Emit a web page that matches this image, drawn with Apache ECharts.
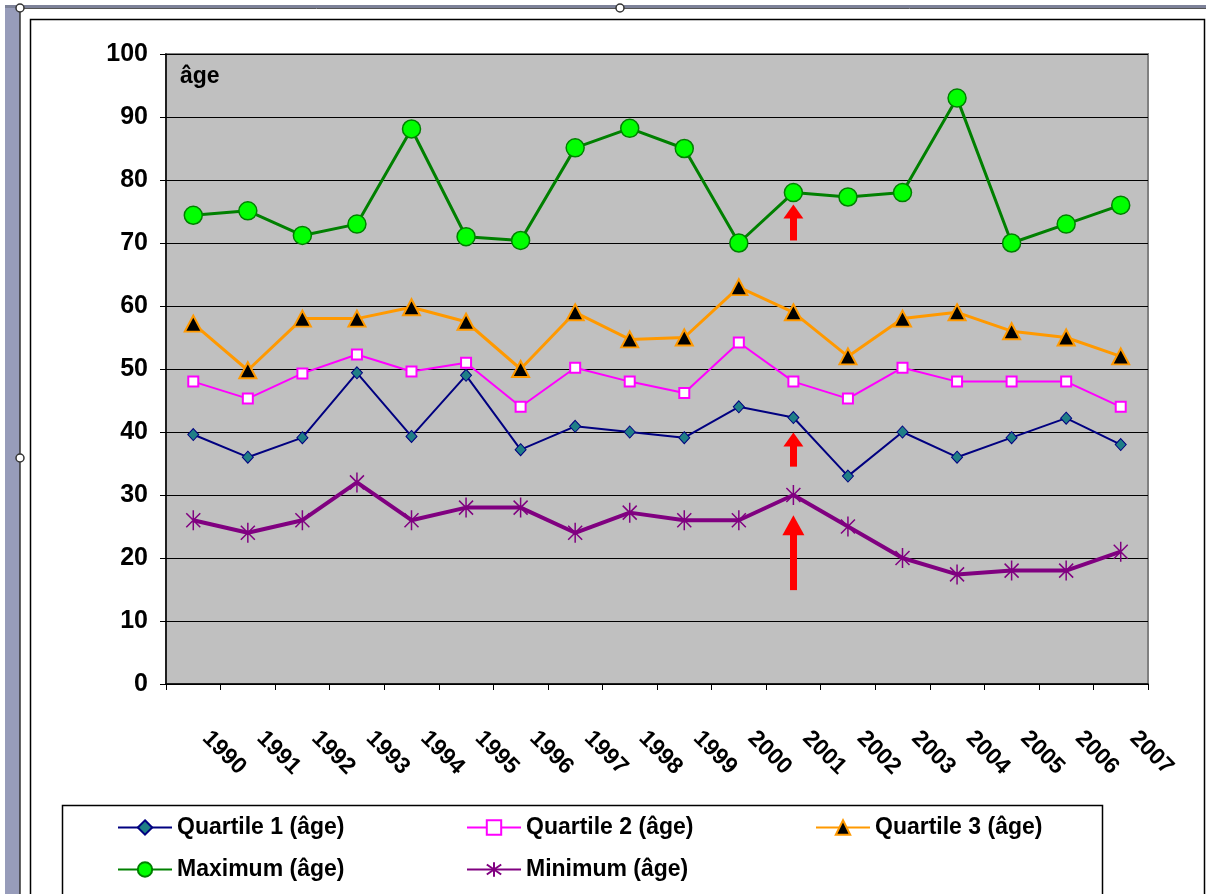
<!DOCTYPE html>
<html><head><meta charset="utf-8">
<script src="https://cdn.jsdelivr.net/npm/echarts@6.0.0/dist/echarts.min.js"></script>
<style>html,body{margin:0;padding:0;background:#fff}#c{width:1206px;height:894px}</style>
</head><body><div id="c"></div>
<script>
const years = ['1990','1991','1992','1993','1994','1995','1996','1997','1998','1999','2000','2001','2002','2003','2004','2005','2006','2007'];
const quartile1 = [39.6,36,39.1,49.4,39.3,49,37.2,40.9,40,39.1,44,42.3,33,40,36,39.1,42.2,38];
const quartile2 = [48,45.3,49.3,52.3,49.6,51,44,50.2,48,46.2,54.2,48,45.3,50.2,48,48,48,44];
const quartile3 = [57.2,49.8,58,58,59.8,57.5,50,59,54.7,55,63,59,52,58,59,56,55,52];
const maximum = [74.4,75.1,71.2,73,88.1,71,70.4,85.1,88.2,85,70,78,77.3,78,93,70,73,76];
const minimum = [26,24,26,32,26,28,28,24,27.2,26,26,30,25,20,17.4,18,18,21];
const seriesNames = ['Quartile 1 (âge)','Quartile 2 (âge)','Quartile 3 (âge)','Maximum (âge)','Minimum (âge)'];
const axisName = 'âge';
// red arrows (annotations): year, base value, head-centre value
const arrows = [
  {year:'2001', from:70.4, to:75.0, head:[20,14]},
  {year:'2001', from:34.5, to:38.8, head:[20,14]},
  {year:'2001', from:14.9, to:25.2, head:[22,20]}
];

const FONT = '"Liberation Sans", Arial, sans-serif';
const asterisk = 'path://M10 0 L10 20 M3 3 L17 17 M3 17 L17 3';

const chart = echarts.init(document.getElementById('c'), null, {renderer:'canvas'});

function mk(name, data, color, width, symbol, size, fill, border, bw, extra) {
  return Object.assign({
    name, type:'line', data,
    symbol, symbolSize:size, showAllSymbol:true,
    lineStyle:{color, width},
    itemStyle:{color:fill, borderColor:border, borderWidth:bw},
    emphasis:{disabled:true},
    z:3
  }, extra||{});
}

const option = {
  animation:false,
  backgroundColor:'#ffffff',
  textStyle:{fontFamily:FONT},
  grid:{left:166, right:58, top:54, bottom:210, show:true, backgroundColor:'#c0c0c0', borderColor:'#808080', borderWidth:2, outerBoundsMode:'none', containLabel:false},
  xAxis:{
    type:'category', data:years, boundaryGap:true,
    axisLine:{show:true, lineStyle:{color:'#000', width:1.5}},
    axisTick:{show:true, length:6, lineStyle:{color:'#000'}},
    axisLabel:{show:true, interval:0, rotate:-45, margin:38, padding:[0,0,0,18], color:'#000', fontFamily:FONT, fontWeight:'bold', fontSize:23},
    splitLine:{show:false}
  },
  yAxis:{
    type:'value', min:0, max:100, interval:10,
    name:axisName, nameLocation:'end', nameGap:-23,
    nameTextStyle:{align:'left', verticalAlign:'middle', padding:[0,0,0,14], color:'#000', fontFamily:FONT, fontWeight:'bold', fontSize:23},
    axisLine:{show:true, lineStyle:{color:'#000', width:1.5}},
    axisTick:{show:true, length:6, inside:false, lineStyle:{color:'#000'}},
    axisLabel:{margin:18, color:'#000', fontFamily:FONT, fontWeight:'bold', fontSize:25},
    splitLine:{show:true, lineStyle:{color:'#000', width:1}}
  },
  legend:{
    data:seriesNames, left:117, top:811, width:1040, orient:'horizontal',
    itemWidth:54, itemHeight:18, itemGap:9, padding:0,
    textStyle:{fontFamily:FONT, fontWeight:'bold', fontSize:23, color:'#000', width:280, lineHeight:33}
  },
  graphic:[
    {type:'rect', shape:{x:5,y:5,width:15,height:889}, style:{fill:'#979cba'}, z:-10, silent:true},
    {type:'rect', shape:{x:5,y:5,width:1201,height:3}, style:{fill:'#7d8299'}, z:-10, silent:true},
    {type:'line', shape:{x1:20,y1:8,x2:20,y2:894}, style:{stroke:'#333', lineWidth:1.5}, z:-9, silent:true},
    {type:'line', shape:{x1:20,y1:8.5,x2:1206,y2:8.5}, style:{stroke:'#555', lineWidth:1}, z:-9, silent:true},
    {type:'rect', shape:{x:30.5,y:19.5,width:1174,height:900}, style:{fill:null, stroke:'#000', lineWidth:1.5}, z:-8, silent:true},
    {type:'rect', shape:{x:62.5,y:805.5,width:1040,height:100}, style:{fill:'#fff', stroke:'#000', lineWidth:1.5}, z:-7, silent:true},
    {type:'circle', shape:{cx:20,cy:8,r:4}, style:{fill:'#fff', stroke:'#333', lineWidth:1.5}, z:10, silent:true},
    {type:'circle', shape:{cx:620,cy:8,r:4}, style:{fill:'#fff', stroke:'#333', lineWidth:1.5}, z:10, silent:true},
    {type:'circle', shape:{cx:20,cy:458,r:4}, style:{fill:'#fff', stroke:'#333', lineWidth:1.5}, z:10, silent:true}
  ],
  series:[
    mk(seriesNames[0], quartile1, '#000080', 2, 'diamond', [11,12], '#1f7f86', '#000080', 1),
    mk(seriesNames[1], quartile2, '#ff00ff', 2, 'rect', 10, '#ffffff', '#ff00ff', 2),
    mk(seriesNames[2], quartile3, '#ff9900', 3, 'triangle', [17,16], '#000000', '#ff9900', 2),
    mk(seriesNames[3], maximum, '#008000', 3, 'circle', 18, '#00ff00', '#008000', 1.5, {
      markLine:{
        silent:true, animation:false,
        label:{show:false},
        lineStyle:{color:'#ff0000', width:7, type:'solid'},
        emphasis:{disabled:true},
        data: arrows.map(a => [
          {coord:[a.year, a.from], symbol:'none'},
          {coord:[a.year, a.to], symbol:'triangle', symbolSize:a.head}
        ])
      }
    }),
    mk(seriesNames[4], minimum, '#800080', 4, asterisk, 20, '#800080', '#800080', 1.5, {symbolKeepAspect:true})
  ]
};
chart.setOption(option);
</script></body></html>
